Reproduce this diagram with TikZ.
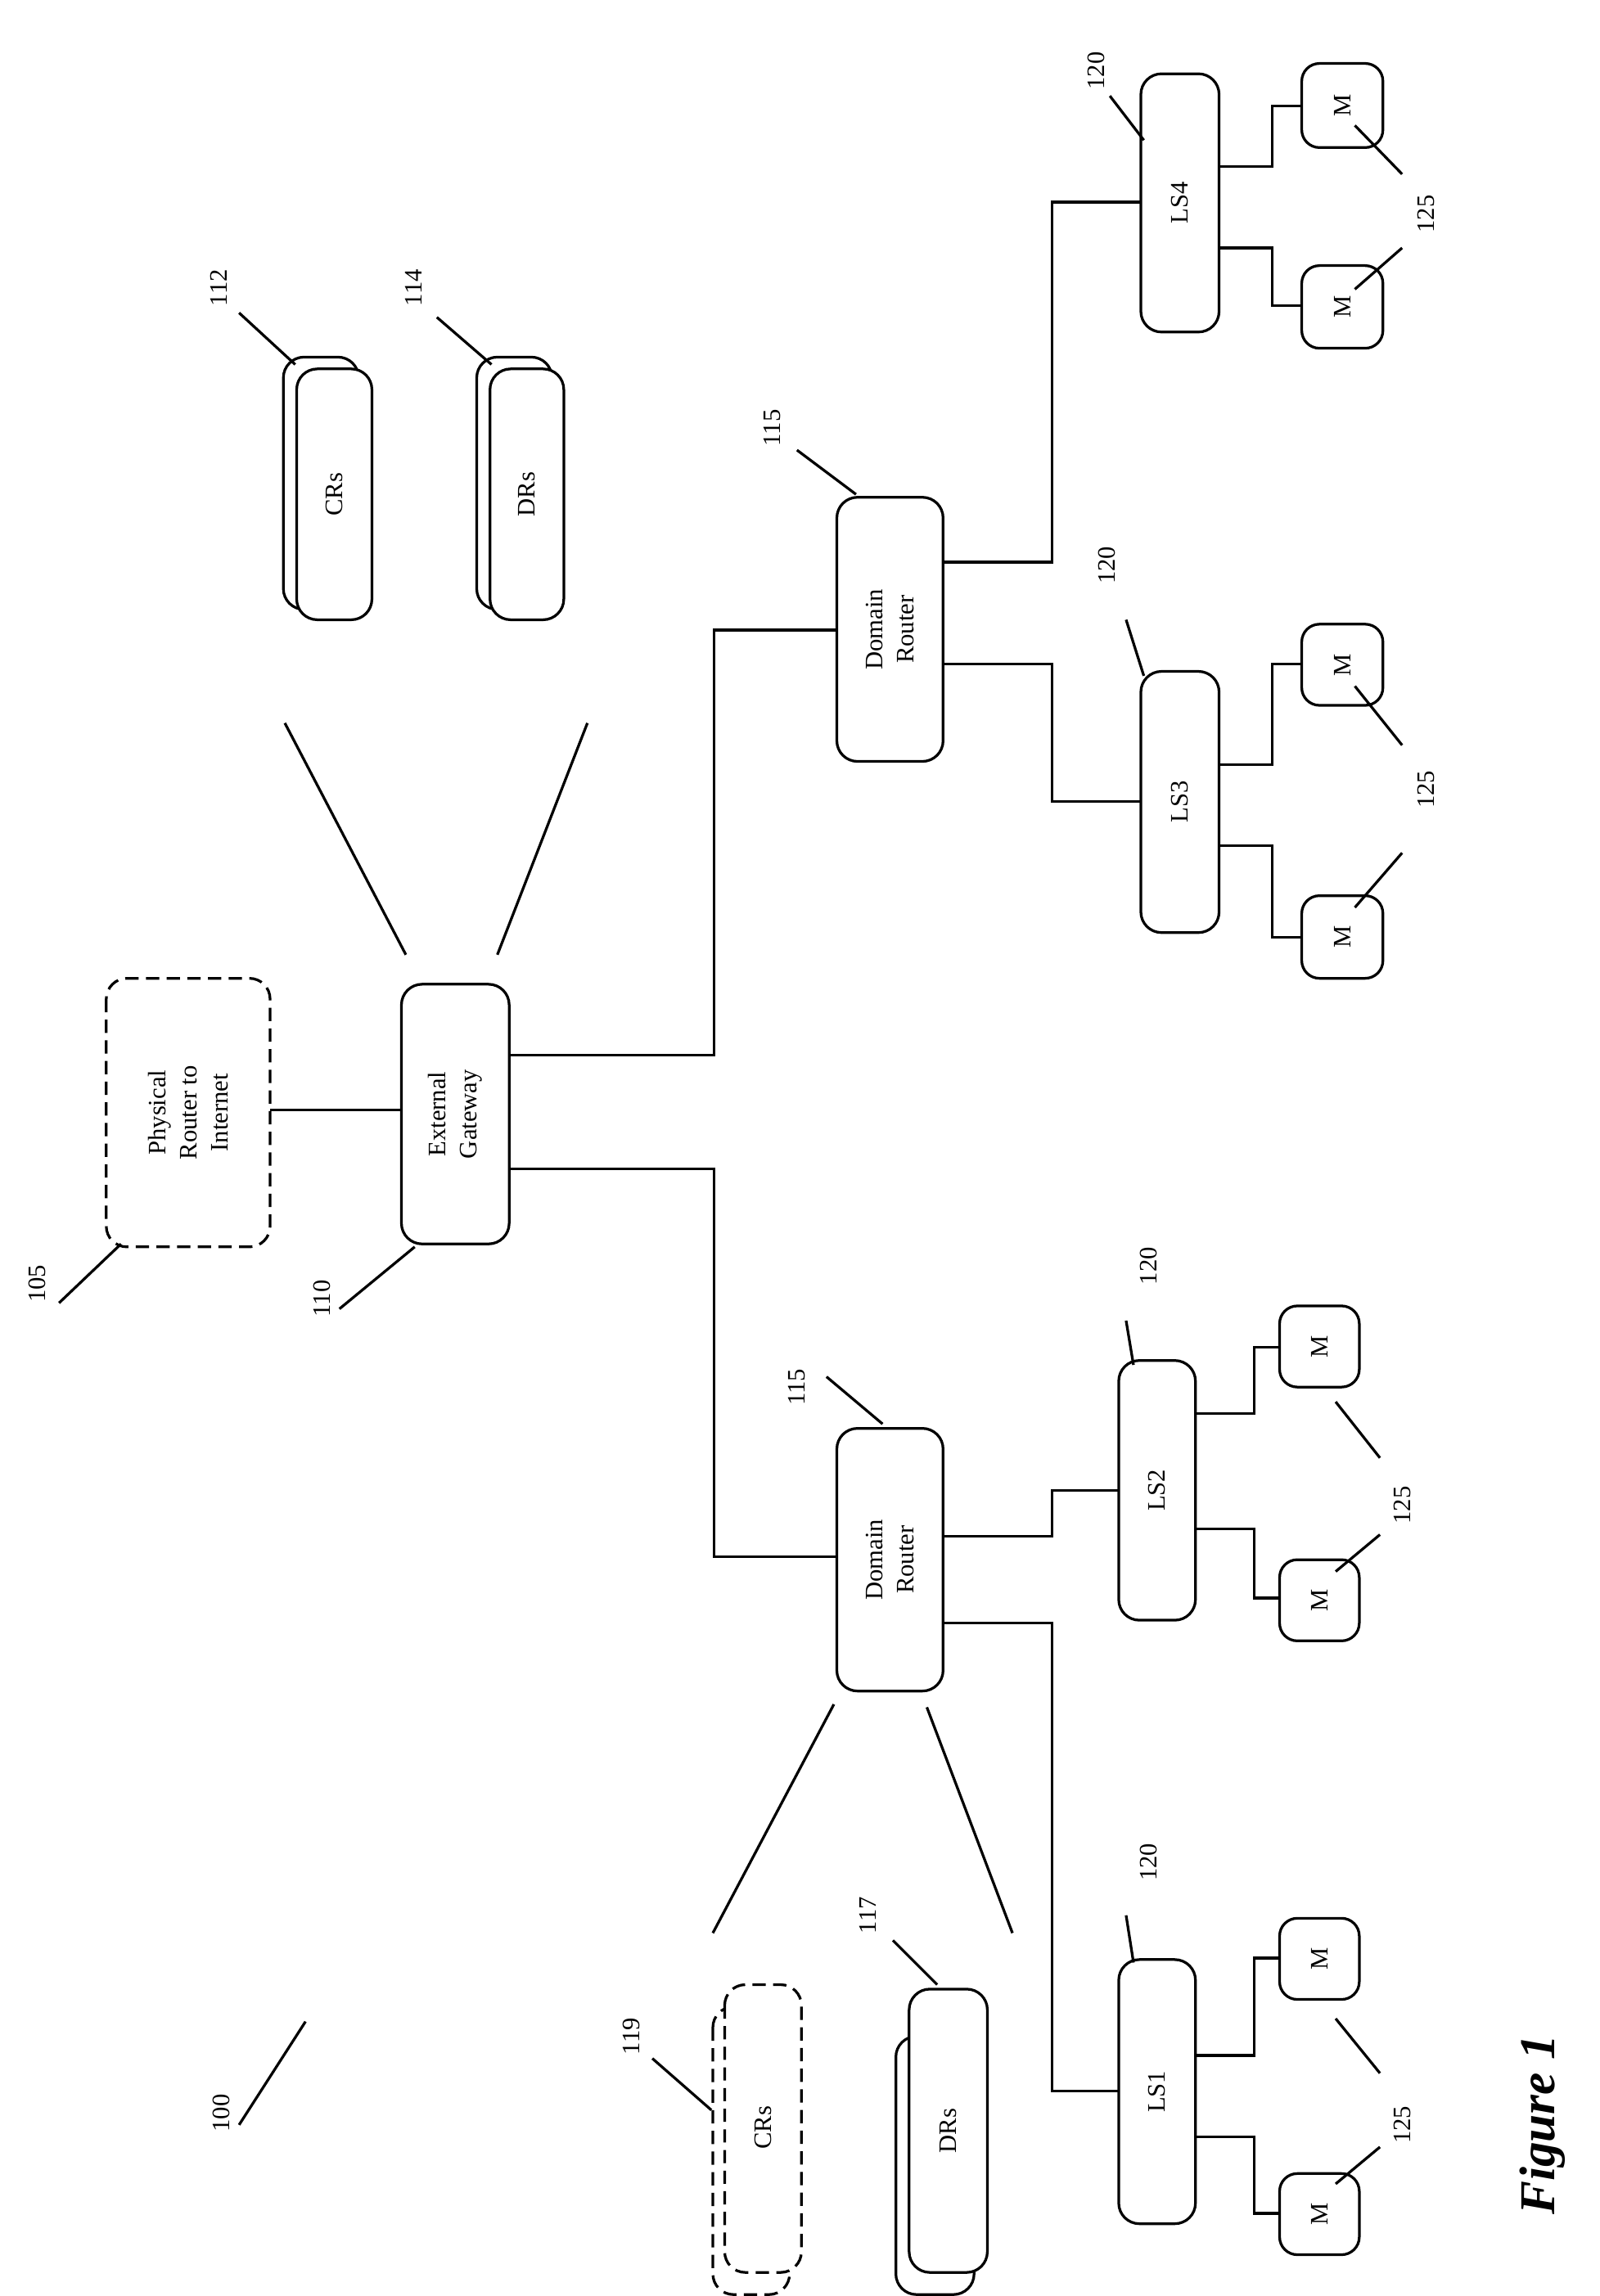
\documentclass[tikz,border=0pt]{standalone}
\usepackage{fontspec}
\setmainfont{Liberation Serif}
\begin{document}
\begin{tikzpicture}[x=1pt,y=-1pt,line width=1.8pt,
 bx/.style={draw,rounded corners=14pt,fill=white},
 dbx/.style={bx,dash pattern=on 9pt off 5pt},
 t/.style={rotate=90,font=\fontsize{17}{21}\selectfont,align=center},
 lb/.style={rotate=90,font=\fontsize{17}{21}\selectfont}]
\useasboundingbox (0,0) rectangle (1084,1556);
% Physical router and gateway
\draw[dbx] (72,663) rectangle (183,845); \node[t] (pr) at (127.5,754) {Physical\\Router to\\Internet};
\draw[bx] (272,667) rectangle (345,843); \node[t] (eg) at (308.5,755) {External\\Gateway};
\draw (183,752) -- (272,752);
\node[lb] (l105) at (25,870) {105}; \draw (40,883) -- (82,843);
\node[lb] (l110) at (218,880) {110}; \draw (230,887) -- (281,845);
\draw (275,647) -- (193,490); \draw (337,647) -- (398,490);
% CRs 112, DRs 114
\draw[bx] (192,242) rectangle (243,413); \draw[bx] (201,250) rectangle (252,420); \node[t] at (226.5,335) {CRs};
\draw[bx] (323,242) rectangle (374,413); \draw[bx] (332,250) rectangle (382,420); \node[t] at (357,335) {DRs};
\node[lb] at (148,195) {112}; \draw (162,212) -- (200,247);
\node[lb] at (280,195) {114}; \draw (296,215) -- (333,247);
% upper domain router
\draw (345,715) -- (484,715) -- (484,427) -- (567,427);
\draw[bx] (567,337) rectangle (639,516); \node[t] at (603,426.5) {Domain\\Router};
\node[lb] at (523,290) {115}; \draw (540,305) -- (580,335);
\draw (639,381) -- (713,381) -- (713,137) -- (773,137);
\draw (639,450) -- (713,450) -- (713,543) -- (773,543);
\draw[bx] (773,50) rectangle (826,225); \node[t] at (799.5,137.5) {LS4};
\node[lb] at (743,48) {120}; \draw (752,65) -- (775,95);
\draw[bx] (773,455) rectangle (826,632); \node[t] at (799.5,543.5) {LS3};
\node[lb] at (750,383) {120}; \draw (763,420) -- (775,458);
% LS4 Ms
\draw (826,113) -- (862,113) -- (862,72) -- (882,72);
\draw (826,168) -- (862,168) -- (862,207) -- (882,207);
\draw[bx,rounded corners=12pt] (882,43) rectangle (937,100); \node[t] at (909.5,71.5) {M};
\draw[bx,rounded corners=12pt] (882,180) rectangle (937,236); \node[t] at (909.5,208) {M};
\node[lb] at (966,145) {125}; \draw (918,85) -- (950,118); \draw (918,196) -- (950,168);
% LS3 Ms
\draw (826,518) -- (862,518) -- (862,450) -- (882,450);
\draw (826,573) -- (862,573) -- (862,635) -- (882,635);
\draw[bx,rounded corners=12pt] (882,423) rectangle (937,478); \node[t] at (909.5,450.5) {M};
\draw[bx,rounded corners=12pt] (882,607) rectangle (937,663); \node[t] at (909.5,635) {M};
\node[lb] at (966,535) {125}; \draw (918,465) -- (950,505); \draw (918,615) -- (950,578);
% lower domain router
\draw (345,792) -- (484,792) -- (484,1055) -- (567,1055);
\draw[bx] (567,968) rectangle (639,1146); \node[t] at (603,1057) {Domain\\Router};
\node[lb] at (540,940) {115}; \draw (560,933) -- (598,965);
\draw (639,1041) -- (713,1041) -- (713,1010) -- (758,1010);
\draw (639,1100) -- (713,1100) -- (713,1417) -- (758,1417);
\draw[bx] (758,922) rectangle (810,1098); \node[t] at (784,1010) {LS2};
\node[lb] at (778,858) {120}; \draw (763,895) -- (768,925);
\draw[bx] (758,1328) rectangle (810,1507); \node[t] at (784,1417.5) {LS1};
\node[lb] at (778,1262) {120}; \draw (763,1298) -- (768,1330);
% LS2 Ms
\draw (810,958) -- (850,958) -- (850,913) -- (867,913);
\draw (810,1036) -- (850,1036) -- (850,1083) -- (867,1083);
\draw[bx,rounded corners=12pt] (867,885) rectangle (921,940); \node[t] at (894,912.5) {M};
\draw[bx,rounded corners=12pt] (867,1057) rectangle (921,1112); \node[t] at (894,1084.5) {M};
\node[lb] at (950,1020) {125}; \draw (905,950) -- (935,988); \draw (905,1065) -- (935,1040);
% LS1 Ms
\draw (810,1393) -- (850,1393) -- (850,1327) -- (867,1327);
\draw (810,1448) -- (850,1448) -- (850,1500) -- (867,1500);
\draw[bx,rounded corners=12pt] (867,1300) rectangle (921,1355); \node[t] at (894,1327.5) {M};
\draw[bx,rounded corners=12pt] (867,1473) rectangle (921,1528); \node[t] at (894,1500.5) {M};
\node[lb] at (950,1440) {125}; \draw (905,1368) -- (935,1405); \draw (905,1480) -- (935,1455);
% lower CR/DR
\draw (565,1155) -- (483,1310); \draw (628,1157) -- (686,1310);
\draw[dbx] (483,1360) rectangle (535,1555); \draw[dbx] (491,1345) rectangle (543,1540); \node[t] at (517,1442) {CRs};
\node[lb] at (428,1380) {119}; \draw (442,1395) -- (482,1430);
\draw[bx] (607,1380) rectangle (660,1555); \draw[bx] (616,1348) rectangle (669,1540); \node[t] at (642.5,1444) {DRs};
\node[lb] at (588,1298) {117}; \draw (605,1315) -- (635,1345);
\node[lb] at (150,1432) {100}; \draw (162,1440) -- (207,1370);
\node[rotate=90,font=\fontsize{34}{40}\selectfont\bfseries\itshape] at (1045,1440) {Figure 1};
\end{tikzpicture}
\end{document}
